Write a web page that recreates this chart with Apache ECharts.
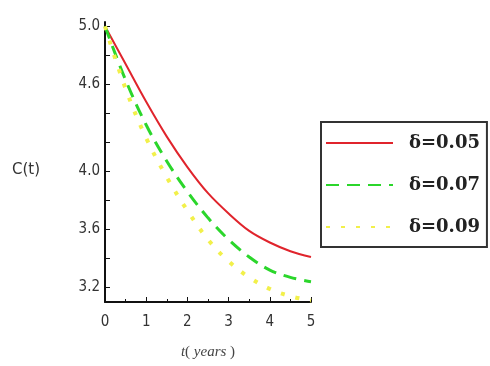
<!DOCTYPE html>
<html>
<head>
<meta charset="utf-8">
<script src="https://cdn.jsdelivr.net/npm/echarts@6/dist/echarts.min.js"></script>
<style>
html,body{margin:0;padding:0;background:#fff;}
#chart{width:490px;height:366px;}
</style>
</head>
<body>
<div id="chart"></div>
<script>
// time in years
const tYears = [0, 0.5, 1, 1.5, 2, 2.5, 3, 3.5, 4, 4.5, 5];
// C(t) for three values of delta
const cDelta005 = [5.0, 4.74, 4.48, 4.24, 4.03, 3.85, 3.71, 3.59, 3.51, 3.45, 3.41];
const cDelta007 = [5.0, 4.63, 4.32, 4.07, 3.86, 3.68, 3.53, 3.41, 3.32, 3.27, 3.24];
const cDelta009 = [5.0, 4.57, 4.23, 3.96, 3.73, 3.53, 3.38, 3.27, 3.19, 3.14, 3.11];
const seriesNames = ['δ=0.05', 'δ=0.07', 'δ=0.09'];
const yTickLabels = [3.2, 3.6, 4.0, 4.6, 5.0];
const xTickLabels = [0, 1, 2, 3, 4, 5];

const pairs = vals => tYears.map((t, i) => [t, vals[i]]);

const chart = echarts.init(document.getElementById('chart'));
const axisFont = {fontFamily: '"DejaVu Sans Condensed", "DejaVu Sans"', fontSize: 15, color: '#333'};

chart.setOption({
  animation: false,
  grid: {left: 105, right: 179, top: 22, bottom: 64},
  xAxis: {
    type: 'value', min: 0, max: 5, interval: 1,
    axisLine: {lineStyle: {color: '#111', width: 2}},
    axisTick: {inside: true, length: 5, lineStyle: {color: '#111'}},
    minorTick: {show: true, splitNumber: 2, length: 3, lineStyle: {color: '#111'}},
    splitLine: {show: false},
    axisLabel: Object.assign({margin: 13, formatter: v => xTickLabels.includes(v) ? String(v) : ''}, axisFont),
    name: '{i|t}( {i|years} )',
    nameLocation: 'middle', nameGap: 43,
    nameTextStyle: {fontFamily: 'Liberation Serif', fontSize: 15, color: '#444',
      rich: {i: {fontFamily: 'Liberation Serif', fontStyle: 'italic', fontSize: 15, color: '#444'}}}
  },
  yAxis: {
    type: 'value', min: 3.1, max: 5.03,
    axisLine: {show: true, lineStyle: {color: '#111', width: 2}},
    axisTick: {inside: true, length: 5, lineStyle: {color: '#111'},
      customValues: [3.2, 3.4, 3.6, 3.8, 4.0, 4.2, 4.4, 4.6, 4.8, 5.0]},
    splitLine: {show: false},
    axisLabel: Object.assign({margin: 5, customValues: yTickLabels, formatter: v => v.toFixed(1)}, axisFont)
  },
  legend: {
    orient: 'vertical', left: 321, top: 122,
    data: seriesNames,
    borderColor: '#333', borderWidth: 2,
    padding: [12, 7, 11, 4],
    itemWidth: 67, itemHeight: 14, itemGap: 24,
    itemStyle: {opacity: 0},
    textStyle: {fontFamily: 'DejaVu Serif', fontWeight: 'bold', fontSize: 18, color: '#222', padding: [0, 0, 0, 11]}
  },
  graphic: [{
    type: 'text', left: 12, top: 163,
    style: {text: 'C(t)', fontFamily: 'DejaVu Sans', fontSize: 15, fill: '#333'}
  }],
  series: [
    {name: seriesNames[0], type: 'line', data: pairs(cDelta005), smooth: 0.35, symbol: 'none',
      lineStyle: {color: '#e0242c', width: 2}, itemStyle: {color: '#e0242c'}},
    {name: seriesNames[1], type: 'line', data: pairs(cDelta007), smooth: 0.35, symbol: 'none',
      lineStyle: {color: '#2bd62b', width: 3, type: [13, 8]}, itemStyle: {color: '#2bd62b'}},
    {name: seriesNames[2], type: 'line', data: pairs(cDelta009), smooth: 0.35, symbol: 'none',
      lineStyle: {color: '#f2f04a', width: 4, type: [4, 11]}, itemStyle: {color: '#f2f04a'}}
  ]
});
</script>
</body>
</html>
